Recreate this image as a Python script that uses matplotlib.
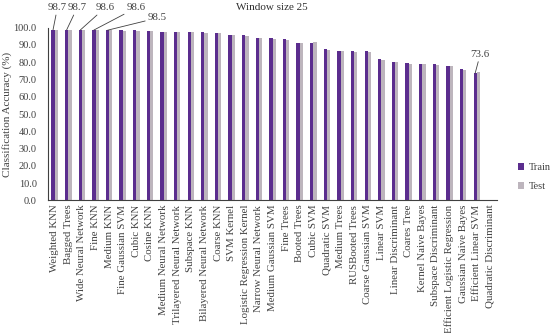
import matplotlib.pyplot as plt
import numpy as np

OUT_PATH = "out.png"

# classifier names, in the order of the chart
models = [
    "Weighted KNN", "Bagged Trees", "Wide Neural Network", "Fine KNN", "Medium KNN",
    "Fine Gaussian SVM", "Cubic KNN", "Cosine KNN", "Medium Neural Network",
    "Trilayered Neural Network", "Subspace KNN", "Bilayered Neural Network",
    "Coarse KNN", "SVM Kernel", "Logistic Regression Kernel", "Narrow Neural Network",
    "Medium Gaussian SVM", "Fine Trees", "Booted Trees", "Cubic SVM", "Quadratic SVM",
    "Medium Trees", "RUSBooted Trees", "Coarse Gaussian SVM", "Linear SVM",
    "Linear Discriminant", "Coares Tree", "Kernel Naive Bayes", "Subspace Discriminant",
    "Efficient Logistic Regression", "Gaussian Naive Bayes", "Efficient Linear SVM",
    "Quadratic Discriminant",
]

train_acc = [
    98.7, 98.7, 98.6, 98.6, 98.5, 98.4, 98.4, 98.0, 97.5, 97.5, 97.4, 97.3,
    97.0, 96.0, 95.5, 94.0, 93.8, 93.2, 91.3, 91.1, 87.5, 86.7, 86.3, 86.2,
    81.7, 80.2, 79.3, 79.1, 78.9, 78.0, 76.0, 73.6, 0.0,
]
test_acc = [
    98.6, 98.6, 98.5, 98.5, 98.4, 98.2, 98.2, 97.9, 97.3, 97.2, 97.2, 97.1,
    96.8, 95.5, 94.9, 93.8, 93.6, 93.0, 91.0, 91.8, 87.2, 86.4, 86.1, 86.0,
    81.4, 80.0, 79.0, 78.8, 78.6, 77.8, 75.7, 74.5, 0.0,
]

# value labels: (index, text, label x, label y)
callouts = [
    (0, "98.7", -0.5, 111.5),
    (1, "98.7", 0.95, 111.5),
    (2, "98.6", 3.0, 111.5),
    (3, "98.6", 5.3, 111.5),
    (4, "98.5", 6.85, 105.6),
]
last_callout = (31, "73.6", 31.25, 84.5)

TRAIN_COLOR = "#5b2d8e"
TEST_COLOR = "#bdb5bd"
TEXT_COLOR = "#404040"
FONT = "Liberation Serif"

plt.rcParams["font.family"] = FONT

fig = plt.figure(figsize=(5.5, 3.33), dpi=100)
ax = fig.add_axes([0.087, 0.398, 0.817, 0.519])

x = np.arange(len(models))
w = 0.24
ax.bar(x - w / 2, train_acc, w, color=TRAIN_COLOR, label="Train")
ax.bar(x + w / 2, test_acc, w, color=TEST_COLOR, label="Test")

ax.set_xlim(-0.5, len(models) - 0.5)
ax.set_ylim(0, 100)
ax.set_yticks(np.arange(0, 101, 10))
ax.set_yticklabels([f"{v:.1f}" for v in np.arange(0, 101, 10)], fontsize=7.5)
ax.set_xticks(x)
ax.set_xticklabels(models, rotation=90, fontsize=7.8)
ax.tick_params(axis="x", length=0, pad=3, colors=TEXT_COLOR)
ax.tick_params(axis="y", length=0, pad=8, colors=TEXT_COLOR)

for side in ["top", "right"]:
    ax.spines[side].set_visible(False)
for side in ["left", "bottom"]:
    ax.spines[side].set_color(TEXT_COLOR)
    ax.spines[side].set_linewidth(0.8)

ax.set_ylabel("Classification Accuracy (%)", fontsize=8, color=TEXT_COLOR, labelpad=1)
fig.text(0.495, 0.99, "Window size 25", ha="center", va="top", fontsize=8, color="#303030")

for i, txt, tx, ty in callouts + [last_callout]:
    ax.annotate(txt, xy=(i - w / 2, train_acc[i]), xytext=(tx, ty),
                textcoords="data", fontsize=7.8, color=TEXT_COLOR,
                ha="left" if i != 31 else "center", va="center",
                annotation_clip=False,
                arrowprops=dict(arrowstyle="-", color=TEXT_COLOR, lw=0.6,
                                shrinkA=0, shrinkB=0))

leg = ax.legend(loc="center left", bbox_to_anchor=(0.925, 0.468), bbox_transform=fig.transFigure,
                frameon=False, fontsize=7.5, handlelength=0.6, handleheight=0.6,
                labelspacing=1.0, handletextpad=0.4)
for t in leg.get_texts():
    t.set_color(TEXT_COLOR)

fig.savefig(OUT_PATH, dpi=100)
